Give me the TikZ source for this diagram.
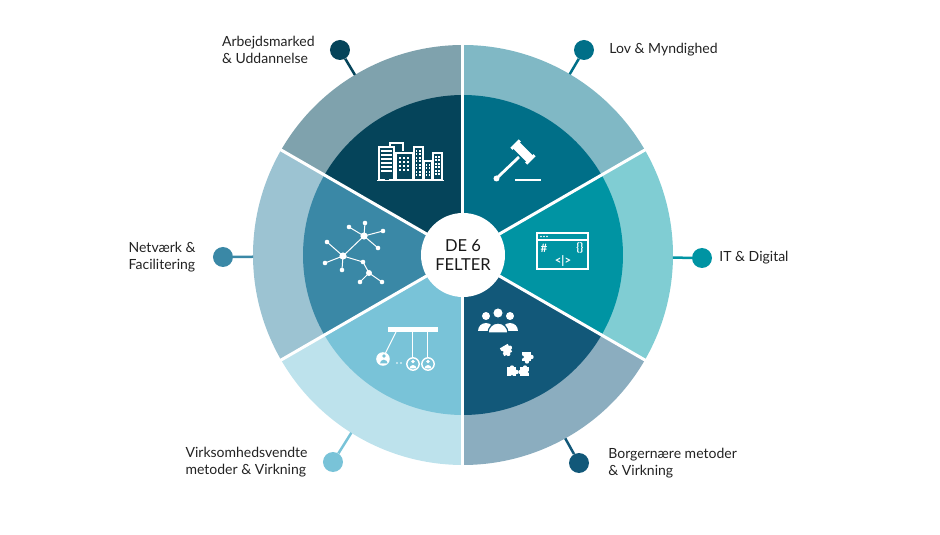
\documentclass[tikz,border=0pt]{standalone}
\usepackage{fontspec}
\setmainfont{Lato}
\usetikzlibrary{positioning,calc}

\definecolor{arbInner}{HTML}{05445A}
\definecolor{arbOuter}{HTML}{7FA2AD}
\definecolor{lovInner}{HTML}{006F88}
\definecolor{lovOuter}{HTML}{80B8C5}
\definecolor{itInner}{HTML}{0094A3}
\definecolor{itOuter}{HTML}{80CDD3}
\definecolor{borInner}{HTML}{125879}
\definecolor{borOuter}{HTML}{8BADBF}
\definecolor{virInner}{HTML}{79C3D8}
\definecolor{virOuter}{HTML}{BDE2EC}
\definecolor{netInner}{HTML}{3A88A6}
\definecolor{netOuter}{HTML}{9CC3D2}
\definecolor{labelText}{HTML}{222222}

\tikzset{
  pindot/.style={circle,fill=#1,minimum size=20pt,inner sep=0pt},
  fieldtext/.style={align=left,inner sep=0pt,text=labelText,font=\fontsize{14}{17}\selectfont},
  codetext/.style={text=white,inner sep=0pt,font=\bfseries\fontsize{11.5}{11.5}\selectfont},
  puzzle/.pic={
    \fill[white] (-4.5,-4.5) rectangle (4.5,4.5);
    \fill[white] (0,-4.5) circle (2.2);
    \fill[white] (4.5,0) circle (2.2);
    \fill[borInner] (-4.5,0) circle (1.6);
  }
}

\begin{document}
\begin{tikzpicture}[x=1pt,y=1pt]
  \useasboundingbox (-463,-280) rectangle (477,255);
  % the six fields, inner and outer ring
  \foreach \a/\ci/\co in {90/arbInner/arbOuter,30/lovInner/lovOuter,-30/itInner/itOuter,
                          -90/borInner/borOuter,210/virInner/virOuter,150/netInner/netOuter}{
    \fill[\co] (0,0) -- (\a:210) arc[start angle=\a,delta angle=60,radius=210] -- cycle;
    \fill[\ci] (0,0) -- (\a:160) arc[start angle=\a,delta angle=60,radius=160] -- cycle;
  }
  \foreach \a in {30,90,...,330}
    \draw[white,line width=3pt] (0,0) -- (\a:212);
  \node[circle,fill=white,minimum size=84pt,inner sep=0pt,align=center,
        text=black!90,font=\fontsize{16.5}{19}\selectfont] (centre) at (0,0) {DE 6\\FELTER};

  % pins
  \foreach \name/\p/\c in {arb/{(-123,205)}/arbInner,lov/{(121,205)}/lovInner,
                           it/{(239,-3)}/itInner,net/{(-240,-2)}/netInner,
                           vir/{(-130,-207)}/virInner,bor/{(116,-208)}/borInner}{
    \node[pindot=\c] (pin\name) at \p {};
    \coordinate (edge\name) at ($(centre.center)!210pt!(pin\name)$);
    \draw[\c,line width=2.5pt] (edge\name) -- (pin\name);
  }
  \node[fieldtext,left=15pt of pinarb] (labarb) {Arbejdsmarked\\\& Uddannelse};
  \node[fieldtext,right=15pt of pinlov] (lablov) {Lov \& Myndighed};
  \node[fieldtext,right=7pt of pinit] (labit) {IT \& Digital};
  \node[fieldtext,left=17pt of pinnet] (labnet) {Netværk \&\\Facilitering};
  \node[fieldtext,left=15pt of pinvir] (labvir) {Virksomhedsvendte\\metoder \& Virkning};
  \node[fieldtext,right=19pt of pinbor] (labbor) {Borgernære metoder\\\& Virkning};

  % icons, drawn in picture pixels
  \begin{scope}[shift={(-463,255)},yscale=-1,white,line width=1.2pt]
    % buildings
    \draw (379,147) rectangle (394,180);
    \foreach \y in {151,155,...,171}
      \draw (381,\y) -- (392,\y);
    \fill[arbInner] (385.5,174) rectangle (389.5,180);
    \draw (390,147) -- (390,143) -- (403,143) -- (403,151);
    \draw (396,153) rectangle (413,180);
    \foreach \x in {399,403,407}
      \foreach \y in {157,161,165,169}
        \fill (\x,\y) rectangle +(2,2);
    \draw (414,147) rectangle (423,180);
    \draw (424,161) rectangle (432,180);
    \draw (433,153) rectangle (442,180);
    \foreach \x in {416,419.5}
      \foreach \y in {150,153.5,...,176}
        \fill (\x,\y) rectangle +(1.4,1.6);
    \foreach \x in {426,429}
      \foreach \y in {164,167.5,...,176}
        \fill (\x,\y) rectangle +(1.4,1.6);
    \foreach \x in {435.5,438.5}
      \foreach \y in {156,159.5,...,176}
        \fill (\x,\y) rectangle +(1.4,1.6);
    \draw[line width=1.6pt] (377,180.5) -- (444,180.5);
    % gavel
    \begin{scope}[shift={(523,152)},rotate=45]
      \fill (-10,-4.5) rectangle (10,4.5);
      \fill (-12,-6) rectangle (-9,6);
      \fill (9,-6) rectangle (12,6);
    \end{scope}
    \draw[line width=2.8pt] (519,157) -- (498,177);
    \fill (496.5,178.5) circle (3);
    \draw[line width=2pt] (515,180.5) -- (541,180.5);
    % code window
    \draw[line width=1.6pt] (537,233) rectangle (588,269);
    \draw[line width=1.4pt] (537,240) -- (588,240);
    \foreach \x in {541,544,547}
      \fill (\x,236.5) circle (0.9);
    \node[codetext] (hash) at (544,248) {\#};
    \node[codetext] (braces) at (580,248) {\{\}};
    \node[codetext] (tag) at (563,261) {<|>};
    % network
    \foreach \x/\y in {349/227,365/223,383/231,378/248,343/256}
      \draw[line width=1pt] (364,236) -- (\x,\y);
    \foreach \x/\y in {327/242,325/263,342/270,363/262}
      \draw[line width=1pt] (343,256) -- (\x,\y);
    \foreach \x/\y in {363/262,360/282,382/282}
      \draw[line width=1pt] (369,273) -- (\x,\y);
    \foreach \x/\y in {349/227,365/223,383/231,378/248,327/242,325/263,342/270,363/262,360/282,382/282}
      \fill (\x,\y) circle (2.3);
    \fill (364,236) circle (3.6);
    \fill (343,256) circle (3.6);
    \fill (369,273) circle (3);
    % newton's cradle
    \fill (388,327) rectangle (438,332);
    \draw[line width=1pt] (396,332) -- (385.5,353);
    \draw[line width=1pt] (413,332) -- (413,357);
    \draw[line width=1pt] (428,332) -- (428,357);
    \fill (383,359) circle (6.8);
    \fill[virInner] (384,356) circle (1.9);
    \fill[virInner] (380,363.5) arc[start angle=180,end angle=360,radius=3.8] -- cycle;
    \fill (397,363) circle (0.9);
    \fill (401,363) circle (0.9);
    \foreach \x in {413,428}{
      \draw[line width=1.4pt] (\x,364) circle (6.2);
      \fill (\x,361.5) circle (1.9);
      \fill (\x-3.5,368.5) arc[start angle=180,end angle=360,radius=3.5] -- cycle;
    }
    % people
    \fill (486,316) circle (4);
    \fill (510,316) circle (4);
    \fill (478,331) arc[start angle=180,end angle=360,radius=8] -- cycle;
    \fill (502,331) arc[start angle=180,end angle=360,radius=8] -- cycle;
    \filldraw[draw=borInner,line width=1.2pt] (498,313) circle (5.3);
    \filldraw[draw=borInner,line width=1.2pt] (488,333) arc[start angle=180,end angle=360,radius=10] -- cycle;
    % puzzle pieces
    \pic[rotate=30] at (506,350) {puzzle};
    \pic at (527,357) {puzzle};
    \pic[rotate=90] at (512,372) {puzzle};
    \pic[rotate=180] at (525,372) {puzzle};
  \end{scope}
\end{tikzpicture}
\end{document}
